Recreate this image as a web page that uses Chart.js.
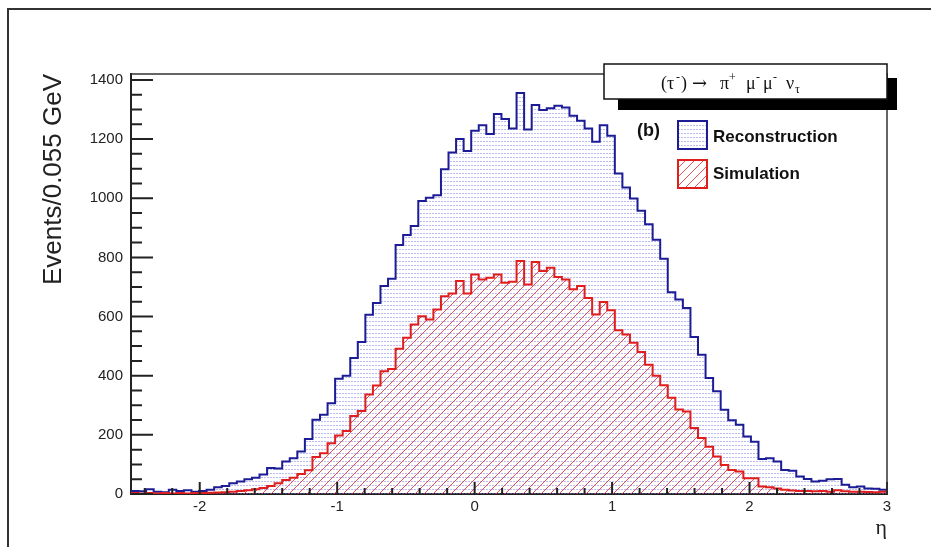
<!DOCTYPE html>
<html><head><meta charset="utf-8">
<script src="https://cdn.jsdelivr.net/npm/chart.js@4.4.1/dist/chart.umd.min.js"></script>
<style>html,body{margin:0;padding:0;background:#fff;} canvas{display:block;}</style>
</head><body>
<canvas id="c" width="931" height="547"></canvas>
<script>
// ---- data (100 bins of 0.055 in eta) ----
const etaMin = -2.5, etaMax = 3.0, binWidth = 0.055;
const reconstruction = [
  10, 9, 16, 8, 6, 14, 10, 13, 8, 10,
  14, 23, 27, 36, 42, 50, 55, 66, 88, 86,
  110, 121, 144, 186, 251, 268, 307, 390, 400, 460,
  514, 606, 646, 703, 728, 842, 876, 906, 991, 1002,
  1010, 1098, 1155, 1200, 1160, 1228, 1247, 1217, 1285, 1268,
  1236, 1356, 1232, 1315, 1298, 1304, 1313, 1307, 1279, 1262,
  1236, 1191, 1247, 1211, 1084, 1036, 999, 958, 912, 860,
  795, 682, 658, 629, 531, 471, 392, 347, 285, 249,
  234, 194, 177, 118, 121, 110, 81, 79, 59, 51,
  42, 45, 50, 51, 31, 23, 25, 19, 18, 14
];
const simulation = [
  3, 2, 3, 2, 3, 2, 3, 2, 3, 3,
  4, 5, 6, 8, 10, 13, 16, 20, 27, 36,
  47, 55, 68, 80, 125, 138, 172, 198, 213, 264,
  281, 336, 367, 415, 423, 491, 528, 573, 601, 590,
  624, 669, 678, 720, 678, 742, 725, 731, 742, 714,
  718, 788, 708, 784, 754, 765, 734, 725, 692, 703,
  663, 607, 649, 621, 554, 539, 511, 480, 437, 400,
  368, 325, 286, 279, 223, 189, 160, 127, 98, 81,
  76, 53, 53, 25, 23, 19, 14, 12, 10, 10,
  9, 10, 8, 13, 9, 8, 8, 7, 6, 8
];
const seriesNames = ['Reconstruction', 'Simulation'];
const xTickValues = [-2, -1, 0, 1, 2, 3];
const yTickValues = [0, 200, 400, 600, 800, 1000, 1200, 1400];
const yMax = 1420;
const xMinorStep = 0.2, yMinorStep = 50;
const yTitle = 'Events/0.055 GeV';
const xTitle = 'η';

// ---- helpers ----
function stepPoints(values) {
  const pts = [{x: etaMin, y: 0}];
  values.forEach((v, i) => pts.push({x: etaMin + i * binWidth, y: v}));
  pts.push({x: etaMax, y: values[values.length - 1]});
  pts.push({x: etaMax, y: 0});
  return pts;
}
const ctx = document.getElementById('c').getContext('2d');
function dotPattern() {
  const c = document.createElement('canvas'); c.width = 3; c.height = 4;
  const g = c.getContext('2d');
  g.fillStyle = 'rgba(120,120,225,0.5)';
  g.fillRect(0, 1, 2, 1);
  return ctx.createPattern(c, 'repeat');
}
function hatchPattern() {
  const s = 9;
  const c = document.createElement('canvas'); c.width = s; c.height = s;
  const g = c.getContext('2d');
  g.strokeStyle = 'rgba(228,50,50,0.85)'; g.lineWidth = 1;
  g.beginPath();
  g.moveTo(-1, s + 1); g.lineTo(s + 1, -1);
  g.moveTo(-1, 1); g.lineTo(1, -1);
  g.moveTo(s - 1, s + 1); g.lineTo(s + 1, s - 1);
  g.stroke();
  return ctx.createPattern(c, 'repeat');
}
const dots = dotPattern();
const hatch = hatchPattern();
const blueLine = '#1c1c96', redLine = '#e01e1e';

const decor = {
  id: 'decor',
  afterDatasetsDraw(chart) {
    const g = chart.ctx, a = chart.chartArea, xs = chart.scales.x, ys = chart.scales.y;
    g.save();
    g.strokeStyle = '#222'; g.lineWidth = 2;
    g.beginPath();
    for (let v = 0; v <= yMax; v += yMinorStep) {
      const y = ys.getPixelForValue(v);
      const len = (v % 200 === 0) ? 22 : 11;
      g.moveTo(a.left, y); g.lineTo(a.left + len, y);
    }
    for (let k = Math.ceil(etaMin / xMinorStep); k * xMinorStep <= etaMax + 1e-9; k++) {
      const v = k * xMinorStep;
      const x = xs.getPixelForValue(v);
      const len = (k % 5 === 0) ? 12 : 6;
      g.moveTo(x, a.bottom); g.lineTo(x, a.bottom - len);
    }
    g.stroke();
    g.lineWidth = 1.5; g.strokeStyle = '#333';
    g.beginPath();
    g.moveTo(a.left, a.top); g.lineTo(a.right, a.top); g.lineTo(a.right, a.bottom);
    g.stroke();
    g.restore();
  },
  afterDraw(chart) {
    const g = chart.ctx;
    g.save();
    g.strokeStyle = '#333'; g.lineWidth = 2;
    g.beginPath(); g.moveTo(8, 547); g.lineTo(8, 9); g.lineTo(931, 9); g.stroke();
    g.fillStyle = '#000';
    g.fillRect(618, 78, 279, 32);
    g.fillStyle = '#fff';
    g.fillRect(604, 64, 283, 35);
    g.strokeStyle = '#111'; g.lineWidth = 1.5;
    g.strokeRect(604, 64, 283, 35);
    g.fillStyle = '#111'; g.textBaseline = 'alphabetic'; g.textAlign = 'left';
    const big = '18px "Liberation Serif", "DejaVu Serif", serif';
    const small = '12px "Liberation Serif", "DejaVu Serif", serif';
    const arrow = '18px "DejaVu Serif", serif';
    const parts = [
      ['(τ', 661, 89, big], ['-', 676, 81, small], [')', 681, 89, big],
      ['→', 692, 89, arrow],
      ['π', 720, 89, big], ['+', 729, 81, small],
      ['μ', 746, 89, big], ['-', 756, 81, small],
      ['μ', 763, 89, big], ['-', 773, 81, small],
      ['ν', 786, 89, big], ['τ', 795, 93, small]
    ];
    parts.forEach(p => { g.font = p[3]; g.fillText(p[0], p[1], p[2]); });
    g.font = 'bold 18px "Liberation Sans", Arial, sans-serif';
    g.textBaseline = 'middle';
    g.fillText('(b)', 637, 131);
    g.fillStyle = dots; g.fillRect(678, 121, 29, 28);
    g.strokeStyle = blueLine; g.lineWidth = 2; g.strokeRect(678, 121, 29, 28);
    g.fillStyle = hatch; g.fillRect(678, 160, 29, 28);
    g.strokeStyle = redLine; g.lineWidth = 2; g.strokeRect(678, 160, 29, 28);
    g.fillStyle = '#111';
    g.font = 'bold 17px "Liberation Sans", Arial, sans-serif';
    g.fillText(seriesNames[0], 713, 137);
    g.fillText(seriesNames[1], 713, 174);
    g.restore();
  }
};

new Chart(ctx, {
  type: 'line',
  data: {
    datasets: [
      {label: seriesNames[1], data: stepPoints(simulation), stepped: true, borderColor: redLine,
       borderWidth: 2, backgroundColor: hatch, fill: 'origin', pointRadius: 0, order: 0},
      {label: seriesNames[0], data: stepPoints(reconstruction), stepped: true, borderColor: blueLine,
       borderWidth: 2, backgroundColor: dots, fill: 'origin', pointRadius: 0, order: 1}
    ]
  },
  options: {
    responsive: false, animation: false, devicePixelRatio: 1,
    layout: {padding: {top: 74, right: 44, left: 0, bottom: 0}},
    plugins: {legend: {display: false}, tooltip: {enabled: false}},
    scales: {
      x: {
        type: 'linear', min: etaMin, max: etaMax,
        afterBuildTicks: s => { s.ticks = xTickValues.map(v => ({value: v})); },
        afterFit: s => { s.height = 53; },
        grid: {display: false, drawTicks: false},
        border: {display: true, color: '#222', width: 2},
        ticks: {font: {family: '"Liberation Sans", Arial, sans-serif', size: 15}, color: '#222',
                padding: 4, autoSkip: false, maxRotation: 0, callback: v => String(v)},
        title: {display: true, text: xTitle, align: 'end', color: '#222',
                font: {family: '"Liberation Serif", serif', size: 22}, padding: {top: 0, bottom: 6}}
      },
      y: {
        min: 0, max: yMax,
        afterBuildTicks: s => { s.ticks = yTickValues.map(v => ({value: v})); },
        afterFit: s => { s.width = 131; },
        grid: {display: false, drawTicks: false},
        border: {display: true, color: '#222', width: 2},
        ticks: {font: {family: '"Liberation Sans", Arial, sans-serif', size: 15}, color: '#222',
                padding: 8, callback: v => String(v)},
        title: {display: true, text: yTitle, align: 'end', color: '#222',
                font: {family: '"Liberation Sans", Arial, sans-serif', size: 26}, padding: {top: 38, bottom: 0}}
      }
    }
  },
  plugins: [decor]
});
</script>
</body></html>
